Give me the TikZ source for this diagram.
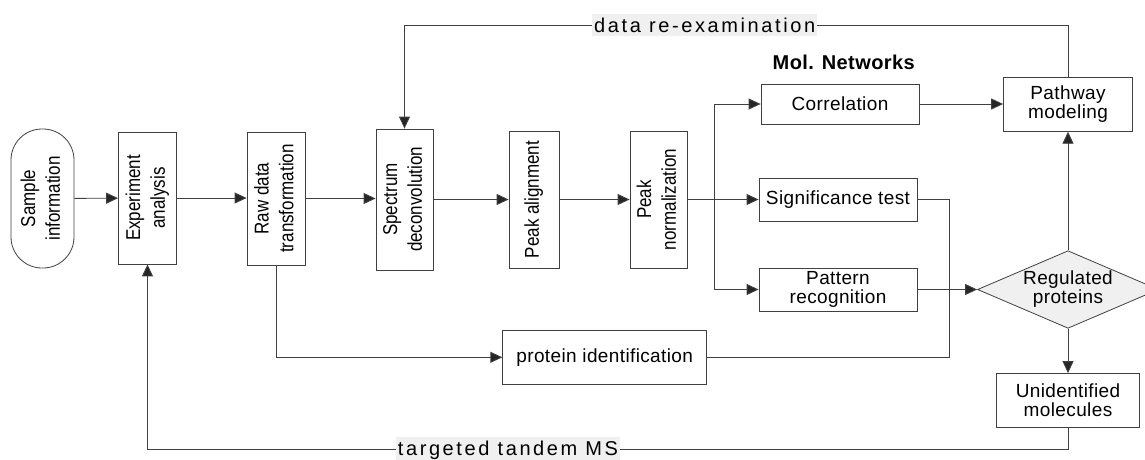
\documentclass[tikz,border=0pt]{standalone}
\usepackage{fontspec}
\usepackage{graphicx}
\setmainfont{Liberation Sans}[LetterSpace=2]
\newfontfamily\rotfont{Liberation Sans}[FakeStretch=0.85]
\newfontfamily\lblfont{Liberation Sans}[LetterSpace=13]
\usetikzlibrary{arrows.meta,shapes.geometric}
\newcommand\vtext[1]{\rotatebox{90}{\begin{tabular}{@{}c@{}}#1\end{tabular}}}
\begin{document}
\begin{tikzpicture}[x=1pt,y=-1pt,
  box/.style={draw=black!75, line width=0.8pt, inner sep=0pt, fill=white,
    font=\fontsize{19}{19}\selectfont, align=center},
  vbox/.style={box, font=\rotfont\fontsize{20}{24.7}\selectfont},
  conn/.style={draw=black!75, line width=0.9pt},
  arr/.style={conn, -{Triangle[length=12pt,width=11pt,fill=black!85]}},
  lbl/.style={fill=black!6, inner xsep=2pt, inner ysep=4pt,
    font=\lblfont\fontsize{20}{20}\selectfont}]
\useasboundingbox (0,0) rectangle (1145,459);
\begin{scope}
\clip (0,0) rectangle (1145,459);
% nodes
\node[vbox, rounded corners=31pt, minimum width=63pt, minimum height=139pt] (sample) at (42.5,198.5) {\vtext{Sample\\information}};
\node[vbox, minimum width=58pt, minimum height=132pt] (exp) at (147.5,198) {\vtext{Experiment\\analysis}};
\node[vbox, minimum width=58pt, minimum height=133pt] (raw) at (276,198.5) {\vtext{Raw data\\transformation}};
\node[vbox, minimum width=57pt, minimum height=141pt] (spec) at (404.5,199.5) {\vtext{Spectrum\\deconvolution}};
\node[vbox, minimum width=50pt, minimum height=137pt] (palign) at (534,199.5) {\vtext{Peak alignment}};
\node[vbox, minimum width=57pt, minimum height=137pt] (pnorm) at (658.5,199.5) {\vtext{Peak\\normalization}};
\node[box, minimum width=158pt, minimum height=40pt] (corr) at (840,104) {Correlation};
\node[box, minimum width=158pt, minimum height=43pt] (sig) at (838,199.5) {Significance test};
\node[box, minimum width=158pt, minimum height=43pt] (pat) at (838,289.5) {Pattern\\recognition};
\node[box, minimum width=204pt, minimum height=54pt] (prot) at (604.7,357.3) {protein identification};
\node[box, diamond, aspect=2.33, fill=black!6, minimum width=181pt, minimum height=77.6pt] (dia) at (1068,289.5) {Regulated\\proteins};
\node[box, minimum width=143pt, minimum height=54pt] (unid) at (1068,400.5) {Unidentified\\molecules};
\node[box, minimum width=129pt, minimum height=54pt] (path) at (1068,104.3) {Pathway\\modeling};
\node[font=\bfseries\fontsize{20}{20}\selectfont, inner sep=0pt] (mol) at (843.7,62) {Mol. Networks};
% helper coordinates
\coordinate (bx) at (714,199.5);
\coordinate (sj) at (949,199.5);
\coordinate (top) at (1068,25);
\coordinate (bot) at (1068,449.5);
% connectors
\draw[arr] (sample) -- (exp);
\draw[arr] (exp.east) -- (raw.west |- exp.east);
\draw[arr] (raw.east) -- (spec.west |- raw.east);
\draw[arr] (spec) -- (palign);
\draw[arr] (palign) -- (pnorm);
\draw[arr] (pnorm.east) -- (sig.west);
\draw[arr] (bx) |- (corr.west);
\draw[arr] (bx) |- (pat.west);
\draw[arr] (corr.east) -- (path.west |- corr.east);
\draw[conn] (sig.east) -- (sj) -- (sj |- prot.east) -- (prot.east);
\draw[arr] (raw.south) |- (prot.west);
\draw[arr] (pat.east) -- (dia.west);
\draw[arr] (dia.north) -- (path.south);
\draw[arr] (dia.south) -- (unid.north);
\draw[arr] (unid.south) -- (bot) -- (exp.south |- bot) -- (exp.south);
\draw[arr] (path.north) -- (top) -- (spec.north |- top) -- (spec.north);
% labels on connectors
\node[lbl] (tms) at (508,450) {targeted tandem MS};
\node[lbl] (dre) at (704.7,25) {data re-examination};
\end{scope}
\end{tikzpicture}
\end{document}
